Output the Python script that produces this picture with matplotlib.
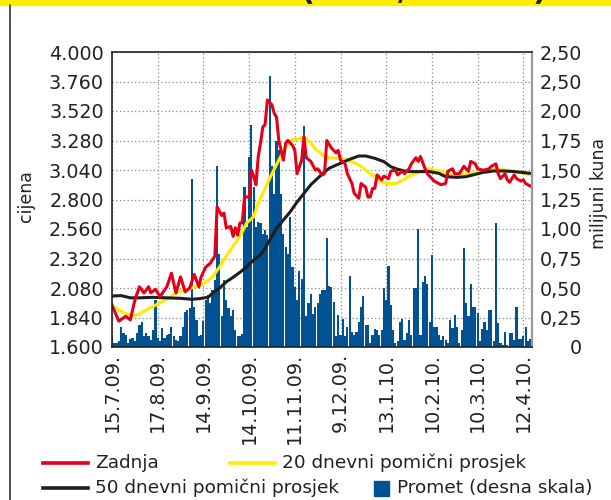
import matplotlib
matplotlib.use("Agg")
import matplotlib.pyplot as plt
from matplotlib.lines import Line2D
from matplotlib.patches import Rectangle

# trading day index -> value
date_labels = ["15.7.09.", "17.8.09.", "14.9.09.", "14.10.09.", "11.11.09.",
               "9.12.09.", "13.1.10.", "10.2.10.", "10.3.10.", "12.4.10."]
date_ticks = [0, 20, 40, 60, 80, 100, 120, 140, 160, 180]

close_days = [0, 3, 6, 8, 10, 12, 14, 16, 17, 19, 21, 24, 26, 28, 30, 32, 34, 36, 38, 39,
              41, 43, 45, 46, 48, 49, 50, 52, 53, 54, 55, 56, 57, 58, 60, 61, 62, 63, 64, 65,
              66, 67, 68, 70, 71, 72, 73, 75, 76, 77, 79, 80, 81, 83, 84, 85, 87, 89, 90, 92,
              93, 94, 96, 98, 99, 100, 102, 103, 105, 106, 108, 109, 111, 112, 113, 114, 115, 116, 118, 119,
              121, 122, 124, 125, 127, 128, 130, 131, 133, 134, 135, 137, 138, 140, 141, 143, 144, 146, 147, 149,
              150, 152, 153, 154, 156, 157, 159, 160, 162, 163, 165, 166, 168, 169, 170, 172, 173, 174, 176, 177,
              179, 180, 181, 183]
close = [1.94, 1.81, 1.85, 1.82, 1.98, 2.09, 2.04, 2.09, 2.04, 2.07, 2.01, 2.09, 2.20, 2.04, 2.17, 2.05, 2.08, 2.19, 2.09, 2.17,
         2.25, 2.28, 2.34, 2.74, 2.67, 2.69, 2.57, 2.58, 2.50, 2.57, 2.51, 2.61, 2.61, 2.82, 2.82, 3.04, 2.99, 2.92, 3.15, 3.26,
         3.39, 3.41, 3.61, 3.57, 3.50, 3.47, 3.28, 3.12, 3.26, 3.28, 3.24, 3.20, 3.01, 3.12, 3.31, 3.14, 3.11, 3.04, 3.05, 3.00,
         3.01, 3.28, 3.22, 3.18, 3.20, 3.12, 3.09, 3.01, 2.93, 2.85, 2.81, 2.93, 2.90, 2.82, 2.82, 2.89, 2.89, 3.00, 2.96, 2.99,
         2.97, 3.03, 3.04, 3.00, 3.03, 3.01, 3.05, 3.09, 3.14, 3.11, 3.15, 3.05, 3.01, 2.97, 2.95, 2.93, 2.92, 2.93, 3.03, 3.05,
         3.01, 3.01, 3.04, 3.07, 3.03, 3.11, 3.09, 3.05, 3.04, 3.04, 3.05, 3.07, 3.09, 3.01, 2.97, 3.01, 2.96, 2.94, 3.00, 2.97,
         2.95, 2.96, 2.93, 2.91]

ma20_days = [0, 3, 6, 9, 12, 15, 18, 21, 25, 28, 32, 36, 39, 41, 44, 47, 50, 53, 56, 59,
             62, 64, 67, 70, 73, 76, 79, 81, 84, 87, 89, 91, 93, 95, 98, 100, 102, 104, 106, 109,
             111, 113, 115, 117, 120, 122, 124, 126, 128, 130, 133, 135, 137, 139, 141, 144, 146, 148, 150, 152,
             155, 157, 159, 161, 163, 165, 168, 170, 172, 174, 176, 179, 181, 183]
ma20 = [1.94, 1.90, 1.87, 1.85, 1.87, 1.90, 1.93, 1.96, 2.00, 2.04, 2.06, 2.09, 2.10, 2.13, 2.17, 2.25, 2.34, 2.42, 2.50, 2.61,
        2.66, 2.77, 2.89, 3.01, 3.12, 3.23, 3.29, 3.29, 3.31, 3.26, 3.21, 3.18, 3.15, 3.14, 3.135, 3.135, 3.13, 3.11, 3.10, 3.07,
        3.04, 3.01, 2.99, 2.95, 2.93, 2.93, 2.93, 2.945, 2.965, 2.99, 3.01, 3.03, 3.04, 3.05, 3.04, 3.03, 3.01, 3.00, 3.00, 3.00,
        3.01, 3.01, 3.02, 3.03, 3.035, 3.04, 3.045, 3.045, 3.04, 3.035, 3.03, 3.02, 3.01, 3.00]

ma50_days = [0, 4, 8, 12, 18, 24, 30, 35, 38, 42, 44, 47, 50, 53, 56, 59, 62, 65, 67, 69,
             72, 75, 78, 81, 84, 87, 91, 95, 100, 104, 108, 111, 115, 119, 122, 125, 128, 130, 135, 139,
             143, 146, 151, 155, 158, 162, 167, 171, 176, 180, 183]
ma50 = [2.015, 2.018, 2.00, 2.00, 2.004, 2.00, 1.996, 1.988, 1.993, 2.004, 2.037, 2.078, 2.13, 2.167, 2.208, 2.253, 2.308, 2.35, 2.40, 2.47,
        2.566, 2.633, 2.70, 2.78, 2.85, 2.92, 2.99, 3.054, 3.095, 3.127, 3.154, 3.154, 3.135, 3.108, 3.067, 3.046, 3.032, 3.027, 3.027, 3.027,
        3.013, 2.986, 2.98, 2.986, 3.00, 3.019, 3.032, 3.032, 3.027, 3.019, 3.013]

# daily turnover, million kuna (day 0 .. 183)
turnover = [0.09, 0.03, 0.03, 0.05, 0.17, 0.12, 0.10, 0.03, 0.07, 0.08,
            0.05, 0.12, 0.19, 0.21, 0.09, 0.12, 0.09, 0.06, 0.14, 0.40,
            0.08, 0.05, 0.16, 0.08, 0.10, 0.11, 0.17, 0.09, 0.06, 0.05,
            0.09, 0.17, 0.30, 0.31, 0.33, 1.42, 0.34, 0.23, 0.09, 0.10,
            0.22, 0.40, 0.44, 0.37, 0.48, 0.57, 1.53, 0.79, 0.26, 0.57,
            0.40, 0.33, 0.26, 0.31, 0.14, 0.09, 0.09, 0.11, 1.36, 1.02,
            1.61, 1.88, 1.36, 1.02, 1.06, 1.05, 0.96, 0.99, 0.95, 2.30,
            1.53, 1.30, 1.75, 1.67, 1.30, 0.96, 0.85, 0.79, 1.10, 0.68,
            0.51, 0.40, 0.64, 0.58, 1.87, 0.26, 0.37, 0.45, 0.28, 0.34,
            0.37, 0.45, 0.48, 0.48, 0.92, 0.52, 0.51, 0.38, 0.09, 0.27,
            0.10, 0.24, 0.09, 0.17, 0.60, 0.13, 0.10, 0.13, 0.21, 0.34,
            0.43, 0.19, 0.19, 0.03, 0.10, 0.15, 0.14, 0.10, 0.14, 0.50,
            0.40, 0.69, 0.36, 0.14, 0.03, 0.05, 0.21, 0.24, 0.06, 0.12,
            0.23, 0.10, 0.50, 0.50, 1.00, 0.10, 0.55, 0.60, 0.53, 0.21,
            0.78, 0.17, 0.17, 0.10, 0.06, 0.09, 0.06, 0.03, 0.23, 0.16,
            0.27, 0.17, 0.03, 0.14, 0.84, 0.37, 0.26, 0.53, 0.34, 0.34,
            0.29, 0.05, 0.15, 0.21, 0.14, 0.31, 0.31, 0.05, 1.05, 0.20,
            0.03, 0.02, 0.13, 0.02, 0.12, 0.12, 0.06, 0.34, 0.07, 0.07,
            0.09, 0.17, 0.05, 0.07]

price_ticks = [1.6 + 0.24 * k for k in range(11)]
vol_ticks = [0.25 * k for k in range(11)]
vol_labels = ["0", "0,25", "0,50", "0,75", "1,00", "1,25", "1,50", "1,75", "2,00", "2,50", "2,50"]

RED = "#E2001A"
YELLOW = "#FFEA00"
BLACK = "#1E1E1E"
BLUE = "#005293"
FS = 13.8

fig = plt.figure(figsize=(6.11, 5.0), dpi=100)
W, H = 611.0, 500.0

# bars on the primary axes (right scale), lines on the twin (left scale)
ax2 = fig.add_axes([112 / W, 1 - 347 / H, 420 / W, 295 / H])
ax = ax2.twinx()

ax2.bar(range(len(turnover)), turnover, width=0.95, color=BLUE, linewidth=0)
ax2.set_ylim(0, 2.5)
ax2.set_xlim(0, 183.8)
ax2.yaxis.tick_right()
ax2.set_yticks(vol_ticks)
ax2.set_yticklabels(vol_labels, fontsize=FS)
for lbl in ax2.get_yticklabels():
    lbl.set_horizontalalignment("right")
ax2.tick_params(axis="y", length=0, pad=36, colors="#222222")
ax2.set_xticks(date_ticks)
ax2.set_xticklabels(date_labels, rotation=90, fontsize=FS, va="top")
ax2.tick_params(axis="x", length=0, pad=4, colors="#222222")
ax2.set_axisbelow(True)
ax2.grid(True, linestyle=(0, (1, 2)), color="#888888", linewidth=0.9)
for s in ax2.spines.values():
    s.set_visible(False)

ax.plot(ma20_days, ma20, color=YELLOW, lw=2.2, solid_capstyle="round")
ax.plot(ma50_days, ma50, color=BLACK, lw=2.2, solid_capstyle="round")
ax.plot(close_days, close, color=RED, lw=2.2, solid_joinstyle="round")
ax.set_ylim(1.6, 4.0)
ax.yaxis.tick_left()
ax.yaxis.set_label_position("left")
ax.set_yticks(price_ticks)
ax.set_yticklabels([f"{v:.3f}" for v in price_ticks], fontsize=FS)
ax.tick_params(axis="y", length=0, pad=6, colors="#222222")
for name in ["left", "top", "bottom"]:
    ax.spines[name].set_color("#222222")
    ax.spines[name].set_linewidth(1.2)
ax.spines["right"].set_color("#999999")
ax.spines["right"].set_linewidth(1.6)

ax.set_ylabel("cijena", fontsize=12.5, color="#222222")
ax.yaxis.set_label_coords(-0.183, 0.51)
ax2.set_ylabel("milijuni kuna", fontsize=12.5, color="#222222", rotation=90)
ax2.yaxis.set_label_position("right")
ax2.yaxis.set_label_coords(1.138, 0.52)

# page decoration: yellow header strip, clipped heading and left rule
fig.add_artist(Rectangle((0, 1 - 5 / H), 1, 5 / H, transform=fig.transFigure,
                         color="#FFED00", zorder=0))
fig.text(300 / W, 1.0, "(kune/dionica)", fontsize=22, fontweight="bold",
         va="baseline", ha="left", color="#222222")
fig.add_artist(Line2D([10 / W, 10 / W], [0, 1 - 5 / H], transform=fig.transFigure,
                      color="#222222", lw=1.1))

# legend
def leg_line(x0, x1, y, color, text):
    fig.add_artist(Line2D([x0 / W, x1 / W], [1 - y / H] * 2, transform=fig.transFigure,
                          color=color, lw=2.6))
    fig.text((x1 + 7) / W, 1 - y / H, text, fontsize=13.3, va="center", color="#222222")

leg_line(43, 88, 463, RED, "Zadnja")
leg_line(230, 275, 463, YELLOW, "20 dnevni pomični prosjek")
leg_line(43, 88, 488, BLACK, "50 dnevni pomični prosjek")
fig.add_artist(Rectangle((374 / W, 1 - 495.5 / H), 15 / W, 15 / H, transform=fig.transFigure,
                         color=BLUE))
fig.text(397 / W, 1 - 488 / H, "Promet (desna skala)", fontsize=13.3, va="center", color="#222222")

fig.savefig("out.png", dpi=100)
